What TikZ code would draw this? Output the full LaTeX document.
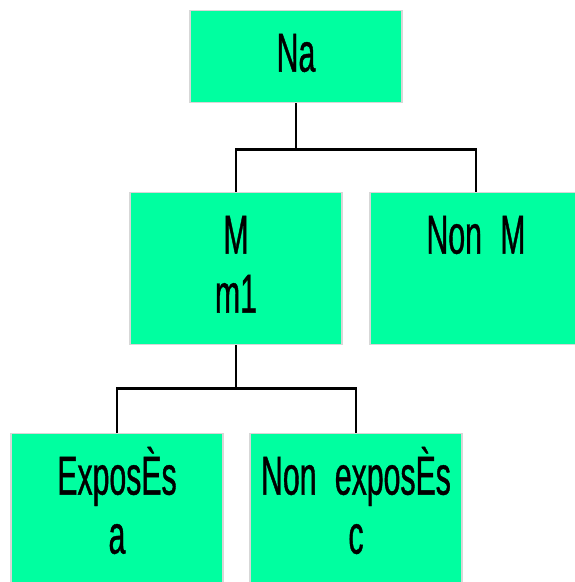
\documentclass[tikz,border=0pt]{standalone}
\usepackage{fontspec}
\setmainfont[FakeStretch=0.55,FakeBold=0.7]{Liberation Sans}
\usetikzlibrary{calc}
\definecolor{boxgreen}{RGB}{0,255,160}
\definecolor{boxedge}{RGB}{215,215,215}
\newcommand\boxfont{\fontsize{55}{59}\selectfont\spaceskip=6pt\relax}

\begin{document}
\begin{tikzpicture}[x=1pt,y=-1pt,
    box/.style={rectangle,fill=boxgreen,draw=boxedge,line width=1.2pt,
        inner sep=0pt,text width=212pt,align=center,anchor=north,
        font=\boxfont,text height=61pt},
    conn/.style={line width=2.6pt,black}]

    \useasboundingbox (0,0) rectangle (574,582);

    % Boxes
    \node[box,text depth=31pt]  (na)    at (296,10)  {Na};
    \node[box,text depth=91pt]  (m)     at (236,192) {M\\m1};
    \node[box,text depth=91pt]  (nonm)  at (476,192) {Non M};
    \node[box,text depth=91pt]  (expo)  at (117,433) {ExposÈs\\a};
    \node[box,text depth=91pt]  (nexpo) at (356,433) {Non exposÈs\\c};

    % Connectors
    \draw[conn] (na.south) -- ++(0,46) coordinate (j1);
    \draw[conn] (m.north) |- (j1) -| (nonm.north);

    \draw[conn] (m.south) -- ++(0,43) coordinate (j2);
    \draw[conn] (expo.north) |- (j2) -| (nexpo.north);

\end{tikzpicture}
\end{document}
